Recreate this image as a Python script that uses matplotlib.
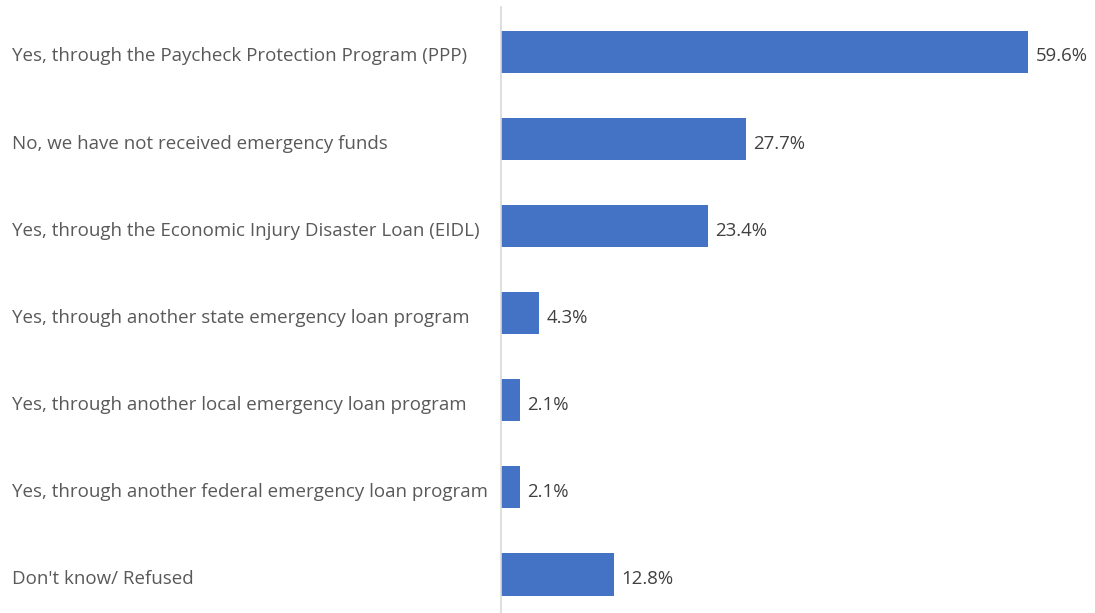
import matplotlib.pyplot as plt

categories = [
    "Yes, through the Paycheck Protection Program (PPP)",
    "No, we have not received emergency funds",
    "Yes, through the Economic Injury Disaster Loan (EIDL)",
    "Yes, through another state emergency loan program",
    "Yes, through another local emergency loan program",
    "Yes, through another federal emergency loan program",
    "Don't know/ Refused",
]
values = [59.6, 27.7, 23.4, 4.3, 2.1, 2.1, 12.8]

plt.rcParams['font.family'] = ['Open Sans', 'DejaVu Sans']

fig = plt.figure(figsize=(10.95, 6.13), dpi=100)
ax = fig.add_axes([501 / 1095, 0.0, 574.6 / 1095, 1 - 7 / 613])

y = list(range(len(categories)))
ax.barh(y, values, height=0.49, color='#4472C4', zorder=2)

ax.set_xlim(0, 65)
ax.set_ylim(6.446, -0.515)

# value labels just right of each bar
for yi, v in zip(y, values):
    ax.text(v + 0.85, yi + 0.03, f"{v}%", va='center_baseline', ha='left',
            fontsize=13.4, color='#404040')

# category labels flush left in the figure margin
for yi, c in zip(y, categories):
    fig.text(12 / 1095, ax.transData.transform((0, yi + 0.03))[1] / fig.bbox.height,
             c, va='center_baseline', ha='left', fontsize=13.5, color='#595959')

for s in ['top', 'right', 'bottom']:
    ax.spines[s].set_visible(False)
ax.spines['left'].set_color('#D9D9D9')
ax.spines['left'].set_linewidth(1.2)
ax.set_xticks([])
ax.set_yticks([])

fig.savefig('out.png', dpi=100, facecolor='white')
